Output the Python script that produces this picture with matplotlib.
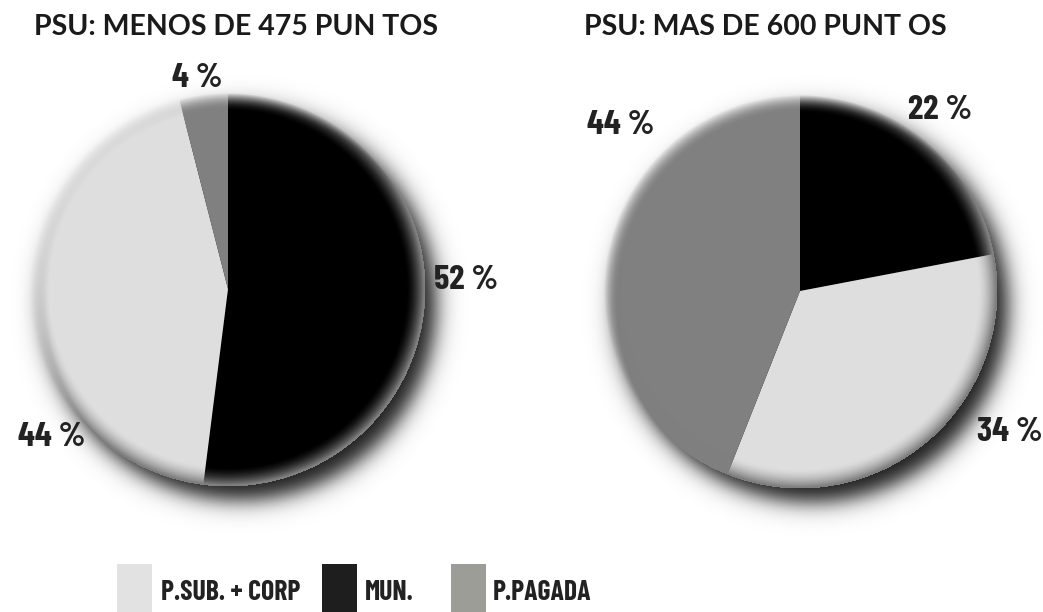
import numpy as np
import matplotlib.pyplot as plt
from matplotlib.patches import Rectangle

W, H = 1043, 612

# data
categories = ['MUN.', 'P.SUB. + CORP', 'P.PAGADA']
left_values = [52, 44, 4]
right_values = [22, 34, 44]
left_title = 'PSU: MENOS DE 475 PUN TOS'
right_title = 'PSU: MAS DE 600 PUNT OS'

pie_colors = ['#000000', '#dedede', '#808080']
legend_colors = ['#1e1e1e', '#e2e2e2', '#9d9d98']
legend_order = [1, 0, 2]

label_font = ['Barlow Condensed', 'Roboto Condensed', 'DejaVu Sans']
title_font = ['Lato', 'DejaVu Sans']

fig = plt.figure(figsize=(W / 100, H / 100), dpi=100)
ax = fig.add_axes([0, 0, 1, 1])

R = 196
# pie centres, in pixels from the top-left corner
centers = [(228, 289), (800, 291)]
# where each slice label sits (pixels from top-left)
label_pos = [[(466, 280), (52, 437), (197, 78)],
             [(940, 110), (1010, 432), (621, 125)]]
title_pos = [(236, 27), (765, 27)]


def shadow(cx, cy):
    pad = 80
    x = np.arange(cx - R - pad, cx + R + pad) + 0.5
    y = np.arange(cy - R - pad, cy + R + pad) + 0.5
    X, Y = np.meshgrid(x, y)
    ext = (x[0] - 0.5, x[-1] + 0.5, y[0] - 0.5, y[-1] + 0.5)
    # soft drop shadow, pushed down and to the right
    rs = np.hypot(X - cx - 12, Y - cy + 15)
    sh = 0.9 * 0.5 * (1 - np.tanh((rs - R) / 13))
    under = np.zeros(X.shape + (4,))
    under[..., 3] = sh
    ax.imshow(under, extent=ext, origin='lower', zorder=0, interpolation='bilinear')
    # feather the rim of the pie into a lighter tone of what lies beneath
    r = np.hypot(X - cx, Y - cy)
    a = np.clip((r - (R - 18)) / 18, 0, 1) ** 1.6
    a[r > R + 1.5] = 0
    over = np.zeros(X.shape + (4,))
    over[..., :3] = np.clip(1 - sh, 0.5, 1)[..., None]
    over[..., 3] = a
    ax.imshow(over, extent=ext, origin='lower', zorder=2, interpolation='bilinear')


for (px, py), vals, title, tpos, lpos in zip(centers, [left_values, right_values],
                                            [left_title, right_title], title_pos, label_pos):
    cx, cy = px, H - py
    shadow(cx, cy)
    ax.pie(vals, colors=pie_colors, startangle=90, counterclock=False,
           center=(cx, cy), radius=R, wedgeprops=dict(linewidth=0))
    ax.text(tpos[0], H - tpos[1], title, ha='center', va='center', fontsize=20.5,
            fontweight='bold', family=title_font, color='#1a1a1a', zorder=3)
    for v, (lx, ly) in zip(vals, lpos):
        ax.text(lx, H - ly, f'{v} %', ha='center', va='center', fontsize=25,
                fontweight='bold', family=label_font, color='#222222', zorder=3)

# legend
sq_x = [117, 322, 451]
txt_x = [161, 365, 493]
for i, k in enumerate(legend_order):
    ax.add_patch(Rectangle((sq_x[i], 0), 35, 48, color=legend_colors[k], lw=0, zorder=3))
    ax.text(txt_x[i], H - 593, categories[k], ha='left', va='center', fontsize=20,
            fontweight='bold', family=label_font, color='#222222', zorder=3)

ax.set_xlim(0, W)
ax.set_ylim(0, H)
ax.set_aspect('auto')
ax.axis('off')

fig.savefig('out.png', dpi=100)
